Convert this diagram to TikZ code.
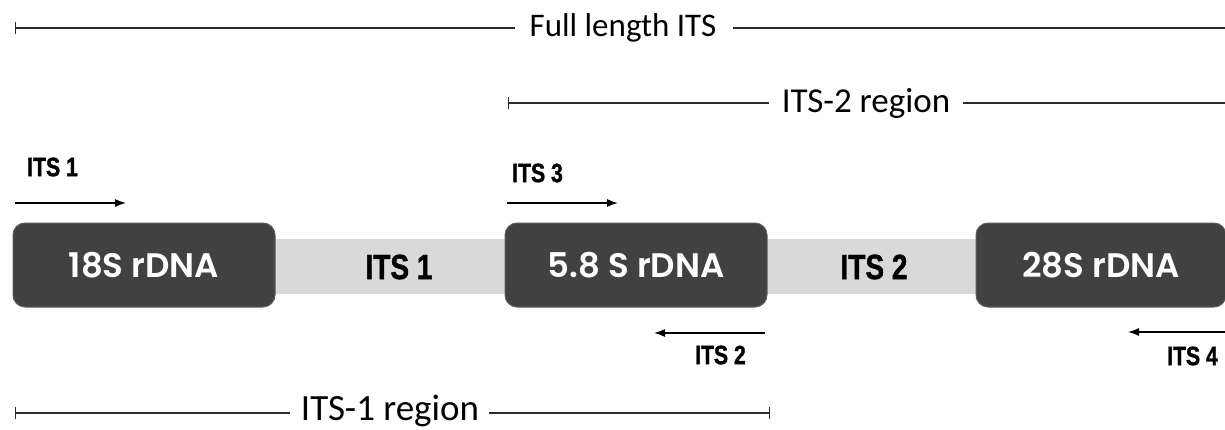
\documentclass[tikz,border=0pt]{standalone}
\usepackage{fontspec}
\setmainfont{Carlito}
\newfontfamily\boxfont{Poppins SemiBold}
\newfontfamily\primerfont{Liberation Sans}[FakeStretch=0.8, FakeBold=1.2]
\usetikzlibrary{arrows.meta}
\definecolor{boxgray}{HTML}{414141}
\definecolor{boxedge}{HTML}{5E5E5E}
\definecolor{bandgray}{HTML}{D9D9D9}
\definecolor{rulegray}{HTML}{2B2B2B}
\tikzset{
  gene/.style={rounded corners=12pt, fill=boxgray, draw=boxedge, line width=1pt,
    minimum height=84pt, inner sep=0pt, text=white,
    font=\boxfont\fontsize{34}{34}\selectfont},
  spacer/.style={font=\primerfont\bfseries\fontsize{35}{35}\selectfont, text=black, inner sep=0pt},
  primerlabel/.style={font=\primerfont\bfseries\fontsize{26.5}{26.5}\selectfont, text=black, inner sep=0pt},
  primer/.style={line width=1.4pt, -{Latex[length=11pt,width=8pt]}},
  regionlabel/.style={font=\fontsize{33}{33}\selectfont, text=black, inner sep=0pt},
  regionline/.style={draw=rulegray, line width=1.4pt},
  regiontick/.style={regionline, {Bar[width=12pt]}-},
  regionend/.style={regionline, -{Bar[width=12pt]}},
}
\begin{document}
\begin{tikzpicture}[x=1pt, y=-1pt]
\useasboundingbox (0,0) rectangle (1225,429);

% transcribed spacer band behind the rDNA genes
\fill[bandgray] (260,239) rectangle (990,294);

% rDNA genes
\node[gene, minimum width=262pt] (s18) at (144,265) {18S rDNA};
\node[gene, minimum width=262pt] (s58) at (636,265) {5.8 S rDNA};
\node[gene, minimum width=250pt] (s28) at (1101,265) {28S rDNA};

% spacers
\node[spacer] (its1) at (399,267) {ITS 1};
\node[spacer] (its2) at (874,267) {ITS 2};

% primers
\node[primerlabel, anchor=west] (p1) at (27,167) {ITS 1};
\coordinate (p1a) at (15,203);
\coordinate (p1b) at (126,203);
\draw[primer] (p1a) -- (p1b);

\node[primerlabel, anchor=west] (p3) at (512,173) {ITS 3};
\coordinate (p3a) at (507,203);
\coordinate (p3b) at (618,203);
\draw[primer] (p3a) -- (p3b);

\node[primerlabel, anchor=east] (p2) at (746,355) {ITS 2};
\coordinate (p2a) at (765,333);
\coordinate (p2b) at (654,333);
\draw[primer] (p2a) -- (p2b);

\node[primerlabel, anchor=east] (p4) at (1218,356) {ITS 4};
\coordinate (p4a) at (1226,332);
\coordinate (p4b) at (1128,332);
\draw[primer] (p4a) -- (p4b);

% amplified regions
\node[regionlabel] (full) at (623,28) {Full length ITS};
\coordinate (fullL) at (15,28);
\coordinate (fullR) at (1226,28);
\draw[regiontick] (fullL) -- ([xshift=-14pt]full.west);
\draw[regionline] ([xshift=16pt]full.east) -- (fullR);

\node[regionlabel, font=\fontsize{35}{35}\selectfont] (r2) at (866,103) {ITS-2 region};
\coordinate (r2L) at (508,103);
\coordinate (r2R) at (1226,103);
\draw[regiontick] (r2L) -- ([xshift=-13pt]r2.west);
\draw[regionline] ([xshift=13pt]r2.east) -- (r2R);

\node[regionlabel, font=\fontsize{37}{37}\selectfont] (r1) at (390,411) {ITS-1 region};
\coordinate (r1L) at (15,413);
\coordinate (r1R) at (770,413);
\draw[regiontick] (r1L) -- ([xshift=-11pt]r1.west |- r1L);
\draw[regionend] ([xshift=10pt]r1.east |- r1R) -- (r1R);
\end{tikzpicture}
\end{document}
